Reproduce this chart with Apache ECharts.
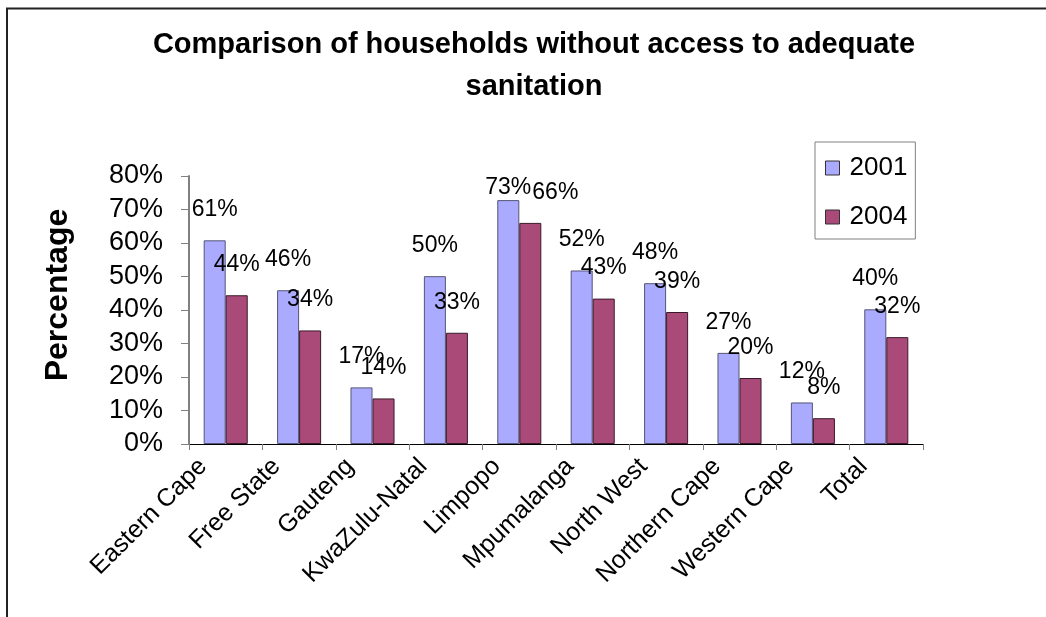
<!DOCTYPE html>
<html>
<head>
<meta charset="utf-8">
<script src="https://cdn.jsdelivr.net/npm/echarts@6/dist/echarts.min.js"></script>
<style>
html,body{margin:0;padding:0;background:#fff;}
#chart{width:1046px;height:617px;}
</style>
</head>
<body>
<div id="chart"></div>
<script>
const categories = ["Eastern Cape","Free State","Gauteng","KwaZulu-Natal","Limpopo","Mpumalanga","North West","Northern Cape","Western Cape","Total"];
const values2001 = [60.8, 45.9, 16.9, 50.1, 72.8, 51.8, 48.0, 27.2, 12.4, 40.2];
const values2004 = [44.4, 33.9, 13.6, 33.2, 66.0, 43.4, 39.4, 19.7, 7.7, 31.9];
const seriesNames = ["2001","2004"];
const yTicks = [0,10,20,30,40,50,60,70,80];
const titleText = 'Comparison of households without access to adequate\nsanitation';
const yTitle = 'Percentage';

const FONT = "'Liberation Sans', Arial, sans-serif";
const yMax = 80;
const gridTop = 176, gridBottom = 173;
const gridH = 617 - gridTop - gridBottom;
const labelH = 23;

function buildData(vals, nudge) {
  return vals.map((v, i) => {
    const gap = (yMax - v) / yMax * gridH;
    const dist = Math.max(1, Math.min(19, gap - labelH));
    const item = { value: v, label: { distance: dist } };
    if (nudge && nudge[i]) item.label.offset = nudge[i];
    return item;
  });
}

const chart = echarts.init(document.getElementById('chart'), null, {renderer:'canvas'});
const labelStyle = {
  show: true, position: 'top', fontFamily: FONT, fontSize: 23, color: '#000',
  formatter: p => Math.round(p.value) + '%'
};
chart.setOption({
  animation: false,
  backgroundColor: '#fff',
  title: {
    text: titleText,
    left: 534, top: 24, textAlign: 'center', padding: 0,
    textStyle: { fontFamily: FONT, fontWeight: 'bold', fontSize: 29, lineHeight: 42, color: '#000' }
  },
  graphic: [{
    type: 'polyline', silent: true,
    shape: { points: [[7, 617], [7, 8.5], [1046, 8.5]] },
    style: { stroke: '#222', lineWidth: 2, fill: null }
  }, {
    type: 'text', silent: true,
    x: 58, y: 295, rotation: Math.PI / 2,
    style: { text: yTitle, fontFamily: FONT, fontWeight: 'bold', fontSize: 32, fill: '#000',
      align: 'center', verticalAlign: 'middle' }
  }],
  legend: {
    orient: 'vertical', left: 815, top: 142,
    padding: [13, 8, 9, 10], itemGap: 23,
    itemWidth: 14, itemHeight: 14,
    backgroundColor: '#fff', borderColor: '#808080', borderWidth: 1, borderRadius: 0,
    icon: 'rect',
    itemStyle: { borderColor: '#333', borderWidth: 1 },
    textStyle: { fontFamily: FONT, fontSize: 26, lineHeight: 26, color: '#000', padding: [0,0,0,5] },
    data: seriesNames
  },
  grid: { left: 189, right: 123, top: gridTop, bottom: gridBottom, containLabel: false },
  xAxis: {
    type: 'category', data: categories,
    axisLine: { lineStyle: { color: '#000', width: 1 } },
    axisTick: { show: true, length: 6, alignWithLabel: false, lineStyle: { color: '#808080' } },
    axisLabel: { interval: 0, rotate: 45, margin: -4, fontFamily: FONT, fontSize: 25, color: '#000', padding: [0, 32, 0, 0] }
  },
  yAxis: {
    type: 'value', min: 0, max: yMax, interval: 10,
    axisLine: { show: true, lineStyle: { color: '#808080', width: 2 } },
    axisTick: { show: true, length: 8, lineStyle: { color: '#808080', width: 1 } },
    splitLine: { show: false },
    axisLabel: { margin: 26, fontFamily: FONT, fontSize: 27, color: '#000',
      formatter: v => yTicks.includes(v) ? v + '%' : '' }
  },
  series: [
    { name: seriesNames[0], type: 'bar', barGap: '0%', barCategoryGap: '40%',
      itemStyle: { color: '#aaaaff', borderColor: '#555577', borderWidth: 1 },
      label: labelStyle, data: buildData(values2001) },
    { name: seriesNames[1], type: 'bar',
      itemStyle: { color: '#aa4a78', borderColor: '#3a1a2a', borderWidth: 1 },
      label: labelStyle, data: buildData(values2004, {4: [25, 0]}) }
  ]
});
</script>
</body>
</html>
